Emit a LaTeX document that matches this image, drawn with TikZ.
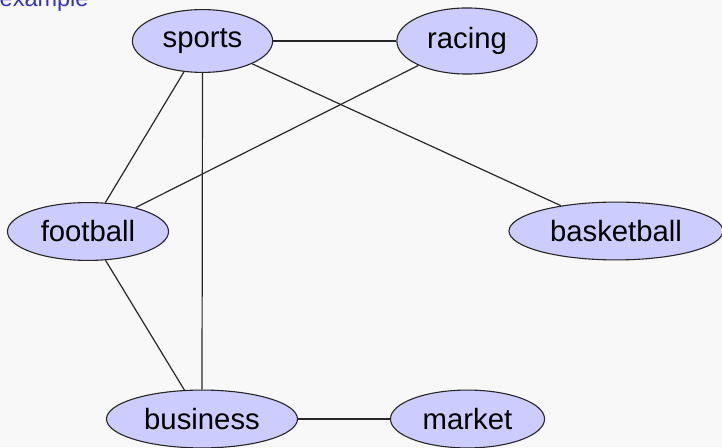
\documentclass[tikz,border=0pt]{standalone}
\usepackage{fontspec}
\setmainfont{Liberation Sans}
\usetikzlibrary{shapes.geometric}
\definecolor{pagebg}{RGB}{248,248,248}
\definecolor{nodefill}{RGB}{204,204,255}
\definecolor{titleblue}{RGB}{52,52,190}
\definecolor{edgecol}{RGB}{40,40,40}
\begin{document}
\begin{tikzpicture}[x=1pt,y=1pt,
  topic/.style={ellipse,draw=black!85,line width=1.1pt,fill=nodefill,
    inner sep=9.7pt,font=\fontsize{29.3}{34}\selectfont},
  link/.style={draw=edgecol,line width=1.2pt}]
  % canvas
  \fill[pagebg] (0,0) rectangle (722,447);
  \useasboundingbox (0,0) rectangle (722,447);
  % caption, partly above the top edge
  \node[anchor=base west,inner sep=0pt,text=titleblue,
    font=\fontsize{23.5}{28}\selectfont] (title) at (-0.5,440.5) {example};
  % topics
  \node[topic] (sports)     at (202.5,406) {sports};
  \node[topic] (racing)     at (467,406)   {racing};
  \node[topic] (football)   at (88,215.5)  {football};
  \node[topic] (basketball) at (616,216)   {basketball};
  \node[topic] (business)   at (202,28)    {business};
  \node[topic] (market)     at (467.5,28)  {market};
  % relations
  \path[link] (sports) -- (racing);
  \path[link] (sports) -- (basketball);
  \path[link] (sports) -- (football);
  \path[link] (sports.south) -- (business.north);
  \path[link] (racing) -- (football);
  \path[link] (football) -- (business);
  \path[link] (business) -- (market);
\end{tikzpicture}
\end{document}
